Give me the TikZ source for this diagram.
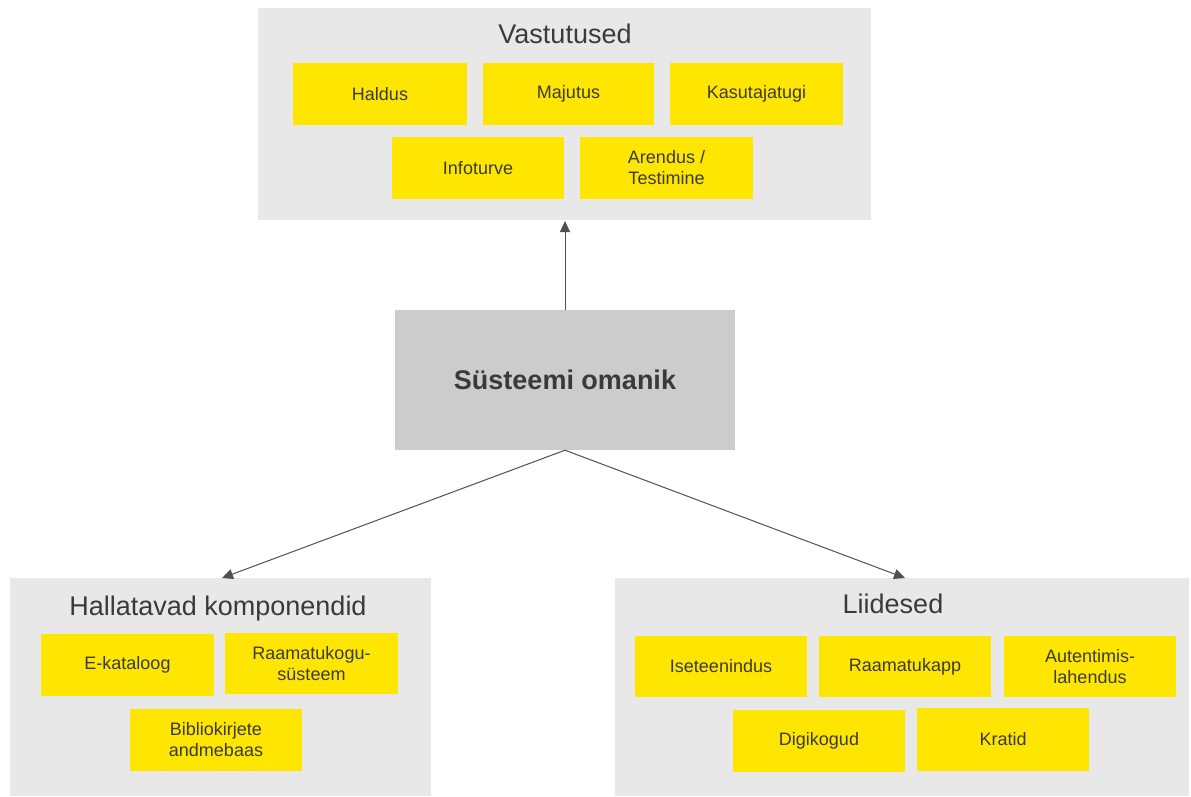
\documentclass[tikz,border=0pt]{standalone}
\usepackage{fontspec}
\setmainfont{Liberation Sans}
\usetikzlibrary{arrows.meta}
\definecolor{panelgray}{HTML}{E8E8E8}
\definecolor{ownergray}{HTML}{CCCCCC}
\definecolor{tileyellow}{HTML}{FFE600}
\definecolor{inkgray}{HTML}{3A3A3A}
\definecolor{linegray}{HTML}{505050}
\begin{document}
\begin{tikzpicture}[x=1pt,y=-1pt,
  panel/.style={fill=panelgray,draw=none},
  tile/.style={fill=tileyellow,draw=none,text=inkgray,font=\fontsize{18}{21}\selectfont,align=center},
  heading/.style={text=inkgray,font=\fontsize{27}{32}\selectfont},
  link/.style={draw=linegray,line width=1pt,-{Triangle[length=11pt,width=10pt]}}]
\useasboundingbox (0,0) rectangle (1191,796);
% panels
\path[panel] (258,8) rectangle (871,220);
\path[panel] (10,578) rectangle (431,796);
\path[panel] (615,578) rectangle (1189,796);
\coordinate (vtop) at (565,221);
\coordinate (htop) at (222,578);
\coordinate (ltop) at (905,578);
% owner box
\node[fill=ownergray,minimum width=340pt,minimum height=140pt,inner sep=0,
  text=inkgray,font=\fontsize{27}{32}\selectfont\bfseries] (owner) at (565,380) {Süsteemi omanik};
% headings
\node[heading] (vast) at (565,34) {Vastutused};
\node[heading] (hall) at (218,609) {Hallatavad komponendid};
\node[heading] (liid) at (893,604) {Liidesed};
% responsibilities
\newcommand{\tilebox}[6]{\node[tile,minimum width=#3pt,minimum height=#4pt,inner sep=0] (#5) at (#1,#2) {#6};}
\tilebox{380}{94}{174}{62}{haldus}{Haldus}
\tilebox{568.5}{94}{171}{62}{majutus}{Majutus}
\tilebox{756.5}{94}{173}{62}{kasutaja}{Kasutajatugi}
\tilebox{478}{168}{172}{62}{infoturve}{Infoturve}
\tilebox{666.5}{168}{173}{62}{arendus}{Arendus /\\Testimine}
% managed components
\tilebox{127.5}{665}{173}{62}{ekat}{E-kataloog}
\tilebox{311.5}{663.5}{173}{61}{rksys}{Raamatukogu-\\süsteem}
\tilebox{216}{740}{172}{62}{biblio}{Bibliokirjete\\andmebaas}
% interfaces
\tilebox{721}{666.5}{172}{61}{isetee}{Iseteenindus}
\tilebox{905}{666.5}{172}{61}{rkapp}{Raamatukapp}
\tilebox{1090}{666.5}{172}{61}{auth}{Autentimis-\\lahendus}
\tilebox{819}{741}{172}{62}{digi}{Digikogud}
\tilebox{1003}{739.5}{172}{63}{kratid}{Kratid}
% connectors
\draw[link] (owner.north) -- (vtop);
\draw[link] (owner.south) -- (htop);
\draw[link] (owner.south) -- (ltop);
\end{tikzpicture}
\end{document}
